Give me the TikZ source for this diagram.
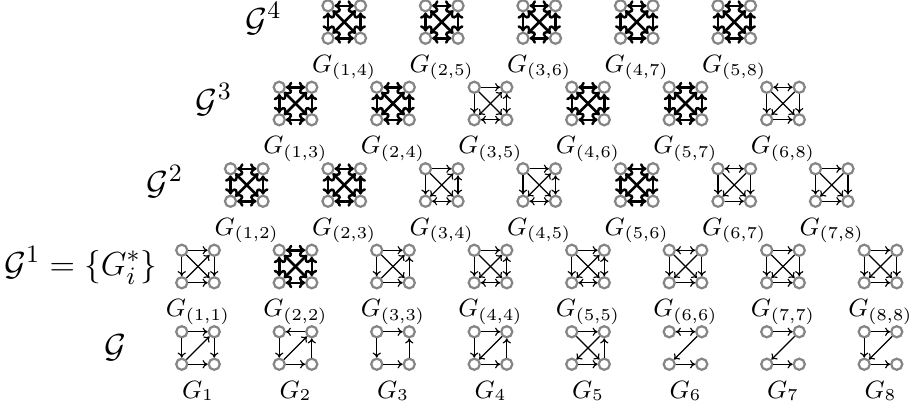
\documentclass[tikz,border=0pt]{standalone}
\usepackage{amsmath}
\usetikzlibrary{arrows.meta}
\newcommand{\mkg}[5]{% prefix, cx, cy, label, edges
  \node[vtx] (#1a) at (#2-16.25,#3-16.25) {};
  \node[vtx] (#1b) at (#2+16.25,#3-16.25) {};
  \node[vtx] (#1c) at (#2-16.25,#3+16.25) {};
  \node[vtx] (#1d) at (#2+16.25,#3+16.25) {};
  \foreach \s/\t/\k in {#5} \draw[\k] (#1\s) -- (#1\t);
  \node[glab] (#1l) at (#2,#3+50) {$#4$};
}
\newcommand{\mkfull}[4]{\mkg{#1}{#2}{#3}{#4}{a/b/arb,a/c/arb,a/d/arb,b/c/arb,b/d/arb,c/d/arb}}
\newcommand{\mkTtwo}[4]{\mkg{#1}{#2}{#3}{#4}{a/b/ar1,a/c/ar1,a/d/ar1,b/c/ar2,b/d/ar2,c/d/ar2}}
\newcommand{\mkTthree}[4]{\mkg{#1}{#2}{#3}{#4}{a/b/ar2,a/c/ar1,a/d/ar1,b/c/ar1,b/d/ar1,c/d/ar1}}
\newcommand{\mkTfour}[4]{\mkg{#1}{#2}{#3}{#4}{a/b/ar1,a/c/ar1,a/d/ar1,b/c/ar1,b/d/ar1,c/d/ar1}}
\begin{document}
\begin{tikzpicture}[x=0.36pt,y=-0.36pt,
  vtx/.style={circle,draw=black!48,line width=0.8pt,minimum size=4pt,inner sep=0pt},
  tipthin/.tip={Computer Modern Rightarrow[length=1.8pt,width=3pt]},
  tipbold/.tip={Computer Modern Rightarrow[length=2.3pt,width=4pt]},
  ar1/.style={-tipthin,line width=0.42pt},
  ar2/.style={tipthin-tipthin,line width=0.42pt},
  arb/.style={tipbold-tipbold,line width=0.9pt},
  glab/.style={anchor=base,inner sep=0pt,font=\fontsize{9}{11}\selectfont},
  rlab/.style={anchor=base,inner sep=0pt,font=\fontsize{12.8}{15}\selectfont}]
\useasboundingbox (0,0) rectangle (909,410);
% row 0 : G
\mkg{g1}{198}{348}{G_1}{a/b/ar1,a/c/ar1,c/b/ar1,c/d/ar1,b/d/ar1}
\mkg{g2}{295.5}{348}{G_2}{b/a/ar1,a/c/ar1,c/b/ar1,c/d/ar1,d/b/ar1}
\mkg{g3}{393}{348}{G_3}{a/b/ar1,a/c/ar1,c/d/ar1,d/b/ar1}
\mkg{g4}{490.5}{348}{G_4}{a/b/ar1,a/c/ar1,b/c/ar1,c/d/ar1,d/b/ar1}
\mkg{g5}{588}{348}{G_5}{a/b/ar1,a/d/ar1,b/c/ar1,c/d/ar1,d/b/ar1}
\mkg{g6}{685.5}{348}{G_6}{a/b/ar2,b/c/ar1,c/d/ar1}
\mkg{g7}{783}{348}{G_7}{a/b/ar1,b/c/ar1,c/d/ar1}
\mkg{g8}{880.5}{348}{G_8}{a/b/ar1,a/c/ar1,b/c/ar1,c/d/ar1}
% row 1
\mkg{h1}{198}{266.5}{G_{(1,1)}}{a/b/ar1,a/c/ar1,a/d/ar1,c/b/ar1,c/d/ar1,b/d/ar1}
\mkfull{h2}{295.5}{266.5}{G_{(2,2)}}
\mkg{h3}{393}{266.5}{G_{(3,3)}}{a/b/ar1,a/c/ar1,a/d/ar1,c/b/ar1,c/d/ar1,d/b/ar1}
\mkTtwo{h4}{490.5}{266.5}{G_{(4,4)}}
\mkTtwo{h5}{588}{266.5}{G_{(5,5)}}
\mkTthree{h6}{685.5}{266.5}{G_{(6,6)}}
\mkTfour{h7}{783}{266.5}{G_{(7,7)}}
\mkTfour{h8}{880.5}{266.5}{G_{(8,8)}}
% row 2
\mkfull{i1}{246.75}{185}{G_{(1,2)}}
\mkfull{i2}{344.25}{185}{G_{(2,3)}}
\mkTtwo{i3}{441.75}{185}{G_{(3,4)}}
\mkTtwo{i4}{539.25}{185}{G_{(4,5)}}
\mkfull{i5}{636.75}{185}{G_{(5,6)}}
\mkTthree{i6}{734.25}{185}{G_{(6,7)}}
\mkTfour{i7}{831.75}{185}{G_{(7,8)}}
% row 3
\mkfull{j1}{295.5}{103.5}{G_{(1,3)}}
\mkfull{j2}{393}{103.5}{G_{(2,4)}}
\mkTtwo{j3}{490.5}{103.5}{G_{(3,5)}}
\mkfull{j4}{588}{103.5}{G_{(4,6)}}
\mkfull{j5}{685.5}{103.5}{G_{(5,7)}}
\mkTthree{j6}{783}{103.5}{G_{(6,8)}}
% row 4
\mkfull{k1}{344.25}{22}{G_{(1,4)}}
\mkfull{k2}{441.75}{22}{G_{(2,5)}}
\mkfull{k3}{539.25}{22}{G_{(3,6)}}
\mkfull{k4}{636.75}{22}{G_{(4,7)}}
\mkfull{k5}{734.25}{22}{G_{(5,8)}}
% row labels
\node[rlab] (r0) at (115,357) {$\mathcal{G}$};
\node[rlab] (r1) at (81,275) {$\mathcal{G}^1=\{G_i^*\}$};
\node[rlab] (r2) at (165,194) {$\mathcal{G}^2$};
\node[rlab] (r3) at (214,112) {$\mathcal{G}^3$};
\node[rlab] (r4) at (263.5,31) {$\mathcal{G}^4$};
\end{tikzpicture}
\end{document}
